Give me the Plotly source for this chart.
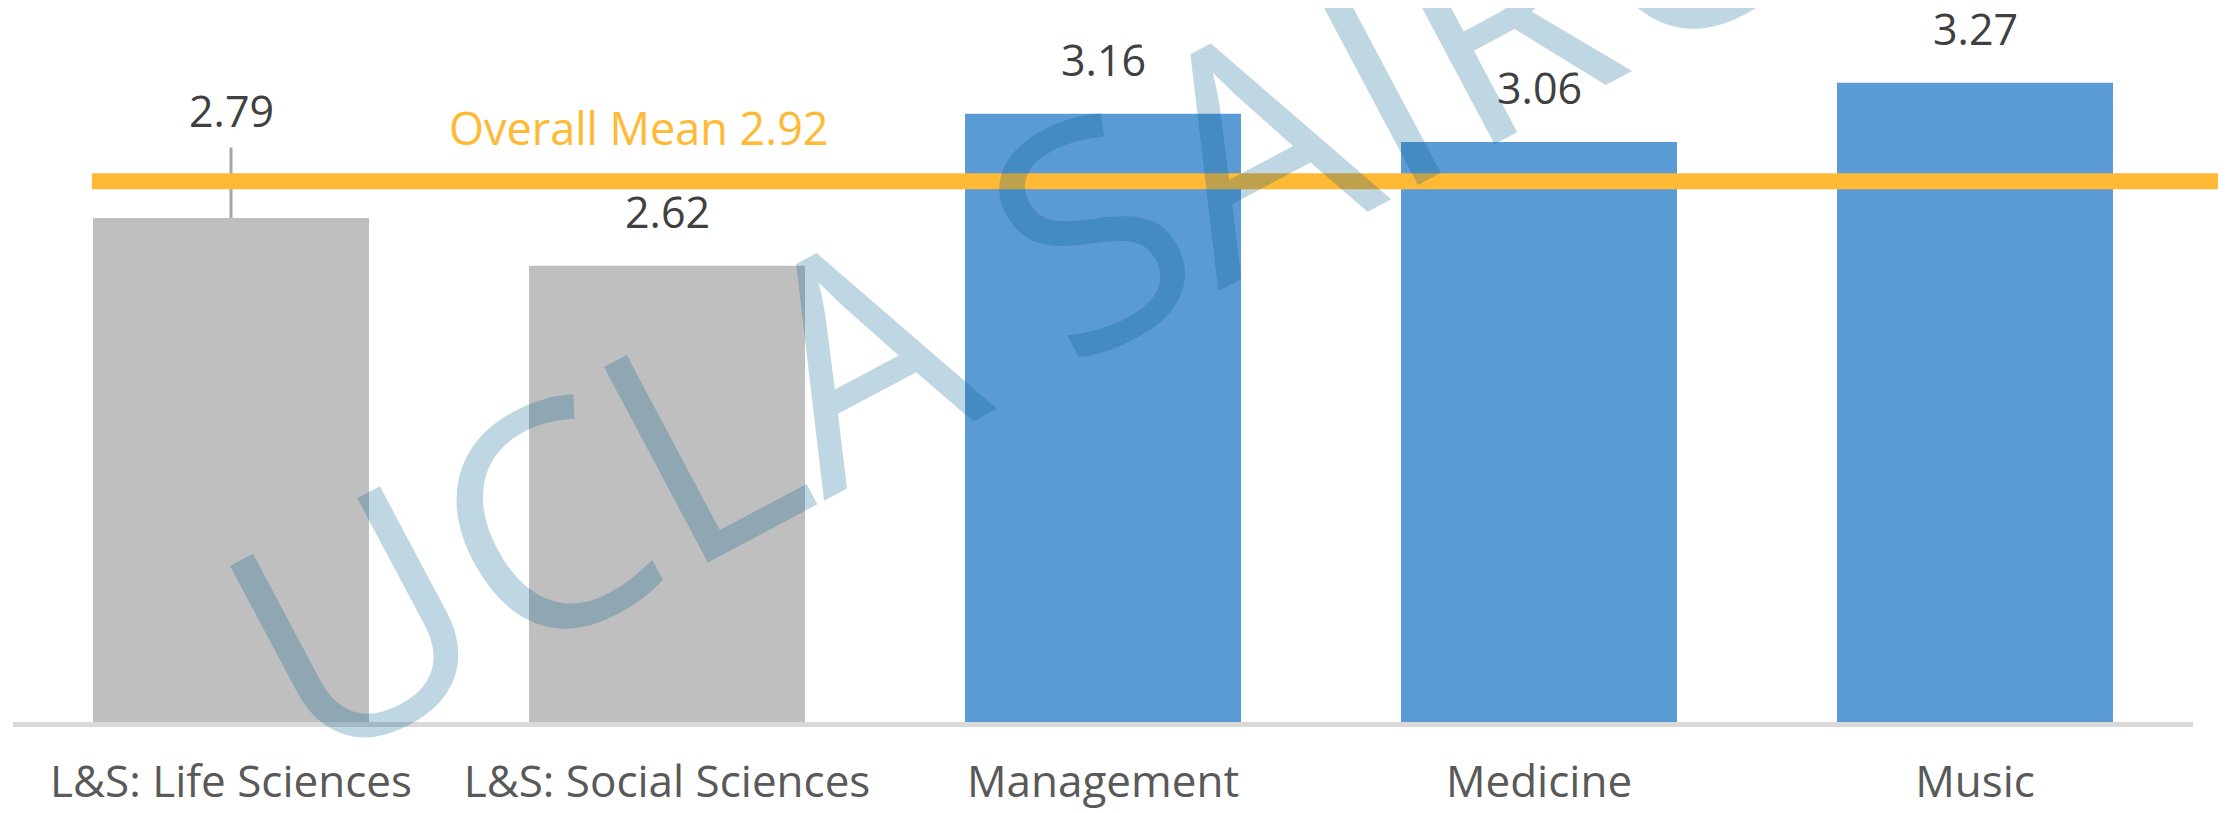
import plotly.graph_objects as go

# ---- data ----
categories = ["L&S: Life Sciences", "L&S: Social Sciences", "Management", "Medicine", "Music"]
values = [2.79, 2.62, 3.16, 3.06, 3.27]
err_plus = [0.25, 0, 0, 0, 0]
bar_colors = ["#BFBFBF", "#BFBFBF", "#5B9BD5", "#5B9BD5", "#5B9BD5"]
overall_mean = 2.92
mean_label = "Overall Mean 2.92"
watermark = "UCLA SAIRO"
y_range = [1, 3.5]

FONT = "Open Sans"

fig = go.Figure()
fig.add_trace(go.Bar(
    x=categories,
    y=values,
    marker=dict(color=bar_colors, line=dict(width=0)),
    error_y=dict(type="data", array=err_plus, arrayminus=[0] * len(values),
                 symmetric=False, color="#A6A6A6", thickness=3, width=0),
    hoverinfo="skip",
))

annotations = [
    dict(text=watermark, xref="paper", yref="paper", x=0.4634, y=0.657,
         xanchor="center", yanchor="middle", textangle=-28, showarrow=False,
         font=dict(family=FONT, size=310, color="rgba(0,91,143,0.25)")),
]
for c, v, e in zip(categories, values, err_plus):
    annotations.append(dict(
        text=f"{v:.2f}", x=c, y=v + e, xref="x", yref="y",
        xanchor="center", yanchor="middle", yshift=37 if e > 0 else 54,
        showarrow=False, font=dict(family=FONT, size=43, color="#404040")))
annotations.append(dict(
    text=mean_label, x=0.199, y=overall_mean, xref="paper", yref="y",
    xanchor="left", yanchor="middle", yshift=54, showarrow=False,
    font=dict(family=FONT, size=45, color="#FFB934")))

fig.update_layout(
    width=2218, height=805,
    margin=dict(l=5, r=33, t=10, b=91, autoexpand=False),
    paper_bgcolor="white", plot_bgcolor="white",
    bargap=0.367,
    showlegend=False,
    xaxis=dict(showline=True, linecolor="#D9D9D9", linewidth=5, ticks="",
               showgrid=False, zeroline=False, ticklabelstandoff=17,
               automargin=False,
               tickfont=dict(family=FONT, size=44, color="#595959")),
    yaxis=dict(range=y_range, showticklabels=False, showgrid=False,
               zeroline=False, showline=False, ticks="", automargin=False),
    shapes=[dict(type="line", xref="paper", yref="y", x0=0.0362, x1=1.0128,
                 y0=overall_mean, y1=overall_mean, layer="above",
                 line=dict(color="#FFB934", width=16))],
    annotations=annotations,
)

fig.write_html("out.html")
